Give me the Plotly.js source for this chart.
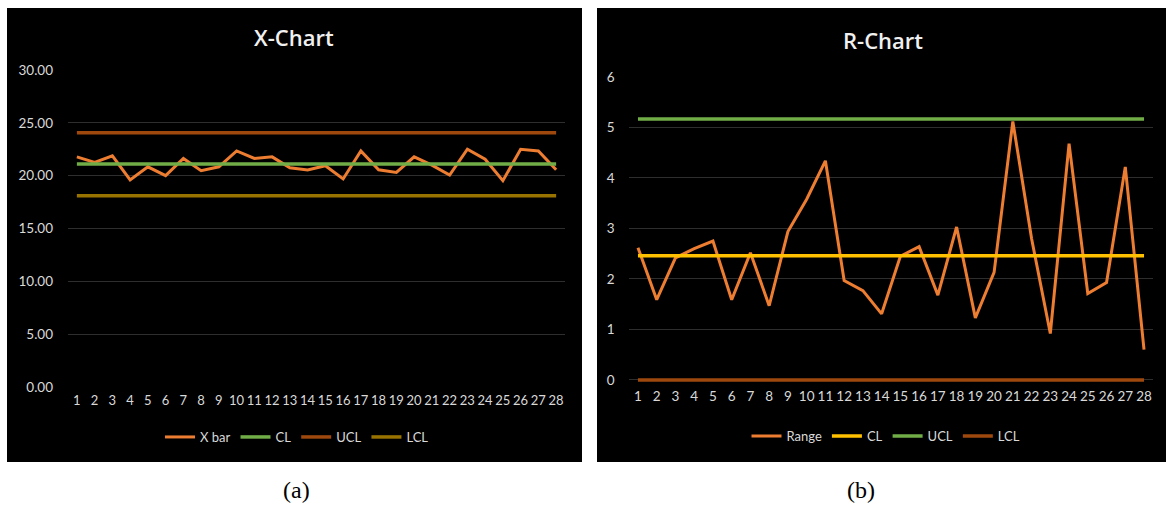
<!DOCTYPE html>
<html><head><meta charset="utf-8">
<script src="https://cdn.plot.ly/plotly-3.0.1.min.js"></script>
<style>html,body{margin:0;padding:0;background:#fff}#c{width:1171px;height:506px}</style>
</head><body><div id="c"></div>
<script>
const samples = [1,2,3,4,5,6,7,8,9,10,11,12,13,14,15,16,17,18,19,20,21,22,23,24,25,26,27,28];
const xbar = [21.78,21.25,21.88,19.59,20.84,20.0,21.63,20.47,20.84,22.34,21.63,21.78,20.75,20.53,20.94,19.69,22.34,20.56,20.31,21.78,21.0,20.06,22.5,21.56,19.53,22.5,22.34,20.56];
const xCL = 21.1, xUCL = 24.06, xLCL = 18.1;
const range = [2.62,1.59,2.42,2.6,2.75,1.59,2.52,1.47,2.94,3.58,4.34,1.97,1.77,1.31,2.45,2.64,1.68,3.03,1.23,2.13,5.12,2.8,0.92,4.68,1.71,1.93,4.22,0.6];
const rCL = 2.46, rUCL = 5.17, rLCL = 0;
const xTicks = [0,5,10,15,20,25,30];
const rTicks = [0,1,2,3,4,5,6];

const W = 1171, H = 506;
const px = v => v / W, py = v => (H - v) / H;
const font = 'Lato, "Open Sans", sans-serif';
const tickCol = '#d9d9d9';
const gridCol = '#2e2e2e';

function ln(x, y, name, color, xa, ya, leg, w) {
  return {x: x, y: y, name: name, type: 'scatter', mode: 'lines', xaxis: xa, yaxis: ya, legend: leg,
    line: {color: color, width: w || 3.5}, hoverinfo: 'skip'};
}
const konst = v => samples.map(() => v);

const data = [
  ln(samples, xbar, 'X bar', '#ED7D31', 'x', 'y', 'legend', 3),
  ln(samples, konst(xCL), 'CL', '#70AD47', 'x', 'y', 'legend'),
  ln(samples, konst(xUCL), 'UCL', '#9E480E', 'x', 'y', 'legend'),
  ln(samples, konst(xLCL), 'LCL', '#997300', 'x', 'y', 'legend'),
  ln(samples, range, 'Range', '#ED7D31', 'x2', 'y2', 'legend2', 3),
  ln(samples, konst(rCL), 'CL', '#FFC000', 'x2', 'y2', 'legend2'),
  ln(samples, konst(rUCL), 'UCL', '#70AD47', 'x2', 'y2', 'legend2'),
  ln(samples, konst(rLCL), 'LCL', '#9E480E', 'x2', 'y2', 'legend2')
];

const xax = (d, fs) => ({domain: d, range: [0.5, 28.5], tickmode: 'array', tickvals: samples, ticktext: samples.map(String), tickangle: 0,
  showgrid: false, zeroline: false, showline: false, ticks: '', tickfont: {family: font, size: fs, color: tickCol}, ticklabelstandoff: 4});
const legend = (cx, cy) => ({orientation: 'h', x: cx, xanchor: 'center', y: py(cy), yanchor: 'middle',
  font: {family: font, size: 13, color: tickCol}, bgcolor: 'rgba(0,0,0,0)', itemwidth: 30, tracegroupgap: 0});
const titleFont = {family: '"Open Sans", sans-serif', size: 22, weight: 600, color: '#f0f0f0'};

const layout = {
  width: W, height: H, margin: {l: 0, r: 0, t: 0, b: 0},
  paper_bgcolor: '#ffffff', plot_bgcolor: '#000000', showlegend: true,
  xaxis: xax([px(68), px(565)], 13),
  yaxis: {domain: [py(387), py(70)], range: [0, 30], tickvals: xTicks, tickformat: '.2f', showgrid: true, gridcolor: gridCol, gridwidth: 1,
    zeroline: false, ticks: '', tickfont: {family: font, size: 13.5, color: tickCol}, ticklabelstandoff: 14, anchor: 'x'},
  xaxis2: Object.assign(xax([px(628.6), px(1153.4)], 13.5), {anchor: 'y2'}),
  yaxis2: {domain: [py(382.5), py(77)], range: [-0.05, 6], tickvals: rTicks, showgrid: true, gridcolor: gridCol, gridwidth: 1,
    zeroline: false, ticks: '', tickfont: {family: font, size: 13.5, color: tickCol}, ticklabelstandoff: 13, anchor: 'x2'},
  legend: legend(px(297), 437),
  legend2: legend(px(886), 436),
  shapes: [
    {type: 'rect', xref: 'paper', yref: 'paper', x0: px(7), x1: px(582), y0: py(462), y1: py(8), fillcolor: '#000', line: {width: 0}, layer: 'below'},
    {type: 'rect', xref: 'paper', yref: 'paper', x0: px(597), x1: px(1166), y0: py(462), y1: py(8), fillcolor: '#000', line: {width: 0}, layer: 'below'}
  ],
  annotations: [
    {text: 'X-Chart', xref: 'paper', yref: 'paper', x: px(294), y: py(37), xanchor: 'center', yanchor: 'middle', showarrow: false, font: titleFont},
    {text: 'R-Chart', xref: 'paper', yref: 'paper', x: px(883), y: py(40), xanchor: 'center', yanchor: 'middle', showarrow: false, font: titleFont},
    {text: '(a)', xref: 'paper', yref: 'paper', x: px(296), y: py(490), xanchor: 'center', yanchor: 'middle', showarrow: false,
      font: {family: '"Liberation Serif", serif', size: 24, color: '#000'}},
    {text: '(b)', xref: 'paper', yref: 'paper', x: px(861), y: py(490), xanchor: 'center', yanchor: 'middle', showarrow: false,
      font: {family: '"Liberation Serif", serif', size: 24, color: '#000'}}
  ]
};
Plotly.newPlot('c', data, layout, {displayModeBar: false, staticPlot: true});
</script></body></html>
